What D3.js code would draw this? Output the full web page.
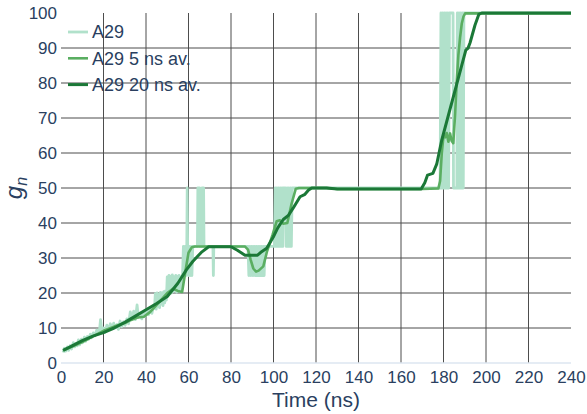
<!DOCTYPE html>
<html>
<head>
<meta charset="utf-8">
<script src="https://cdn.jsdelivr.net/npm/d3@7/dist/d3.min.js"></script>
<style>
  html, body { margin: 0; padding: 0; background: #fff; }
  svg { display: block; font-family: "Liberation Sans", Arial, sans-serif; }
</style>
</head>
<body>
<svg id="chart" width="587" height="414"></svg>
<script>
// Raw g_n trajectory for A29: [time (ns), g_n]
const a29Raw = [
  [1,3.0],[1.6,4.2],[2.2,3.4],[3,4.6],[3.6,3.6],[4.4,5.0],[5,4.0],[5.8,5.8],[6.4,4.6],[7,5.6],
  [7.6,4.9],[8.2,6.6],[8.8,5.2],[9.6,6.8],[10.2,5.8],[11,7.4],[11.6,6.2],[12.4,7.6],[13,6.8],[13.8,8.2],
  [14.4,7.2],[15.2,8.6],[16,7.8],[16.8,9.4],[17.6,8.4],[18.2,9.8],[18.6,12.4],[19.2,9.0],[20,10.0],[20.8,8.8],
  [21.6,10.8],[22.4,9.4],[23.2,11.2],[24,9.8],[24.8,11.4],[25.6,10.0],[26.4,11.0],[27,9.6],[27.8,12.0],[28.6,10.4],
  [29.4,11.8],[30.2,10.8],[31,12.6],[31.8,11.2],[32.6,14.6],[33.4,12.6],[34.2,14.8],[35,12.4],[35.8,16.6],[36.4,13.0],
  [37.2,14.2],[38,12.6],[38.8,14.6],[39.6,13.4],[40.4,15.4],[41.2,13.8],[42,15.8],[42.8,14.2],[43.6,16.4],[44,15.6],
  [44.4,19.8],[44.8,15.4],[45.2,20.0],[45.6,16.2],[46,19.6],[46.4,15.8],[46.8,20.2],[47.2,16.8],[47.6,20.0],[48,16.4],
  [48.4,20.4],[48.8,17.2],[49.2,20.6],[49.6,18.0],
  [50,24.6],[50.4,20.2],[50.8,25.0],[51.2,20.6],[51.6,24.8],[52,20.0],[52.4,25.2],[52.8,20.4],[53.2,24.6],[53.6,20.8],
  [54,25.0],[54.4,20.2],[54.8,24.8],[55.2,20.6],[55.6,25.0],[56,20.4],[56.4,24.6],[56.8,21.0],[57.2,25.0],
  [57.6,33.3],[58,25],[58.4,33.3],[58.8,25],[59.2,33.3],[59.4,50],[59.6,33.3],[60,25],[60.4,33.3],[60.8,25],
  [61.2,33.3],[61.6,25],[62,33.3],
  [64.2,33.3],[64.4,50],[65.2,50],[65.4,33.3],[66.2,33.3],[66.4,50],[67.1,50],[67.3,33.3],
  [71.5,33.3],[71.7,25],[71.9,33.3],[88,33.3],
  [88.4,25],[88.8,33.3],[89.2,25],[89.6,33.3],[90,25],[90.4,33.3],[90.8,25],[91.2,33.3],[91.6,25],[92,33.3],
  [92.4,25],[92.8,33.3],[93.2,25],[93.6,33.3],[94,25],[94.4,33.3],[94.8,25],[95.2,33.3],[95.6,25],[96,33.3],
  [100.4,33.3],[100.8,50],[101.2,33.3],[101.6,50],[102,33.3],[102.4,50],[102.8,33.3],[103.2,50],[103.6,33.3],[104,50],
  [104.4,33.3],[104.6,50],[105.6,50],[106,33.3],[106.4,50],[106.8,33.3],[107.2,50],[107.6,33.3],[108,50],[108.4,33.3],
  [108.8,50],
  [178.4,50],[178.8,100],[179.2,50],[179.6,100],[180,50],[180.4,100],[180.8,50],[181.2,100],[181.6,50],[182,100],
  [182.4,50],[182.8,100],[184.5,100],[184.7,50],[186.3,50],[186.5,100],[186.9,50],[187.3,100],[187.7,50],[188.1,100],
  [188.5,50],[188.9,100],[189.3,50],[189.6,100],[240,100]
];

// 5 ns running average
const a29Avg5 = [
  [1,3.6],[5,4.6],[10,6.0],[15,7.6],[20,9.2],[25,10.4],[30,11.4],[33,12.3],[36,13.0],[39,13.2],
  [42,14.6],[45,16.6],[48,18.6],[50,20.0],[52.7,21.2],[55,20.6],[57,20.3],[58.5,26],[60,31.5],[61.6,33.1],
  [63,33.3],[86.5,33.3],[88,32.4],[89.3,29.4],[90.5,27.0],[91.8,26.1],[93,26.4],[95.2,27.6],[97,32],[99.5,36.5],
  [101.5,40.5],[103,40.8],[104.5,39.8],[106.5,40.0],[108.5,45.5],[110.5,49.8],[112,50],[125,50],[130,49.7],[170,49.7],
  [177.6,49.9],[178.4,52],[179.2,60],[180,65],[180.8,64.5],[181.5,65.7],[182.3,63.2],[183.1,65.6],[183.8,63.5],[184.6,62.8],
  [185.4,70.4],[186.2,80],[187,88],[187.8,93],[188.6,97],[189.4,99],[190.2,99.9],[240,99.9]
];

// 20 ns running average
const a29Avg20 = [
  [1,3.6],[5,4.8],[10,6.4],[15,7.7],[20,8.7],[25,10.0],[30,11.6],[35,13.4],[40,15.2],[45,17.0],
  [50,19.0],[55,22.8],[59,26.6],[62,29.0],[66,31.6],[69.5,33.2],[80,33.2],[83,32.2],[86.6,30.8],[92.5,30.8],
  [94.4,31.8],[96.8,32.8],[99.9,36.0],[102,38.6],[104.6,41.0],[107,42.2],[109.3,44.3],[111,46],[112.5,47.5],[114.8,48.2],
  [116.5,49.4],[118,50],[125,50],[130,49.7],[169.5,49.7],[171.2,51.5],[172.5,53.7],[175,54.2],[176.8,56.8],[179.1,63.5],
  [190.5,89.4],[191.5,89.9],[192.5,91.5],[194.8,96.5],[196.6,99.6],[198,100],[240,100]
];

const xTicks = [0,20,40,60,80,100,120,140,160,180,200,220,240];
const yTicks = [0,10,20,30,40,50,60,70,80,90,100];
const seriesNames = ["A29", "A29 5 ns av.", "A29 20 ns av."];
const seriesColors = ["#b1e1cb", "#5aae61", "#1b7837"];
const seriesWidths = [2.8, 2.6, 3];

const W = 587, H = 414;
const margin = {left: 61, right: 16, top: 13, bottom: 51};
const svg = d3.select("#chart");

const x = d3.scaleLinear().domain([0, 240]).range([margin.left, W - margin.right]);
const y = d3.scaleLinear().domain([0, 100]).range([H - margin.bottom, margin.top]);

const textColor = "#2a3f5f";
const gridColor = "#4d4d4d";

// grid lines for interior ticks
const gridG = svg.append("g");
gridG.selectAll("line.vx").data(xTicks.filter(t => t > 0 && t < 240)).join("line")
  .attr("x1", d => x(d)).attr("x2", d => x(d))
  .attr("y1", y(100)).attr("y2", y(0))
  .attr("stroke", gridColor).attr("stroke-width", 1);
gridG.selectAll("line.hy").data(yTicks.filter(t => t > 0 && t < 100)).join("line")
  .attr("x1", x(0)).attr("x2", x(240))
  .attr("y1", d => y(d)).attr("y2", d => y(d))
  .attr("stroke", gridColor).attr("stroke-width", 1);
// zero line
gridG.append("line")
  .attr("x1", x(0)).attr("x2", x(240)).attr("y1", y(0)).attr("y2", y(0))
  .attr("stroke", "#dce6f1").attr("stroke-width", 1.5);

// axes (labels only)
const xAxis = d3.axisBottom(x).tickValues(xTicks).tickSize(0).tickPadding(8);
const yAxis = d3.axisLeft(y).tickValues(yTicks).tickSize(0).tickPadding(4);
const gx = svg.append("g").attr("transform", `translate(0,${y(0)})`).call(xAxis);
const gy = svg.append("g").attr("transform", `translate(${x(0)},0)`).call(yAxis);
[gx, gy].forEach(g => {
  g.select(".domain").remove();
  g.selectAll("text").attr("fill", textColor).style("font-size", "17px")
    .style("font-family", '"Liberation Sans", Arial, sans-serif');
});

// series
const line = d3.line().x(d => x(d[0])).y(d => y(d[1]));
const allSeries = [a29Raw, a29Avg5, a29Avg20];
svg.append("g").selectAll("path").data(allSeries).join("path")
  .attr("d", d => line(d))
  .attr("fill", "none")
  .attr("stroke", (d, i) => seriesColors[i])
  .attr("stroke-width", (d, i) => seriesWidths[i])
  .attr("stroke-linejoin", "round");

// legend
const leg = svg.append("g").attr("transform", `translate(68,32)`);
seriesNames.forEach((name, i) => {
  const g = leg.append("g").attr("transform", `translate(0,${i * 26.3})`);
  g.append("line").attr("x1", 0).attr("x2", 20).attr("y1", 0).attr("y2", 0)
    .attr("stroke", seriesColors[i]).attr("stroke-width", seriesWidths[i]);
  g.append("text").attr("x", 24).attr("y", 0).attr("dy", "0.35em")
    .attr("fill", textColor).style("font-size", "18px").text(name);
});

// axis titles
svg.append("text")
  .attr("x", (x(0) + x(240)) / 2).attr("y", 407)
  .attr("text-anchor", "middle").attr("fill", textColor)
  .style("font-size", "21px").text("Time (ns)");

const yt = svg.append("text")
  .attr("transform", `translate(22,${(y(0) + y(100)) / 2}) rotate(-90)`)
  .attr("text-anchor", "middle").attr("fill", textColor)
  .style("font-size", "24px");
yt.append("tspan").style("font-style", "italic").text("g");
yt.append("tspan").style("font-style", "italic").style("font-size", "16px").attr("dy", "5").text("n");
</script>
</body>
</html>
